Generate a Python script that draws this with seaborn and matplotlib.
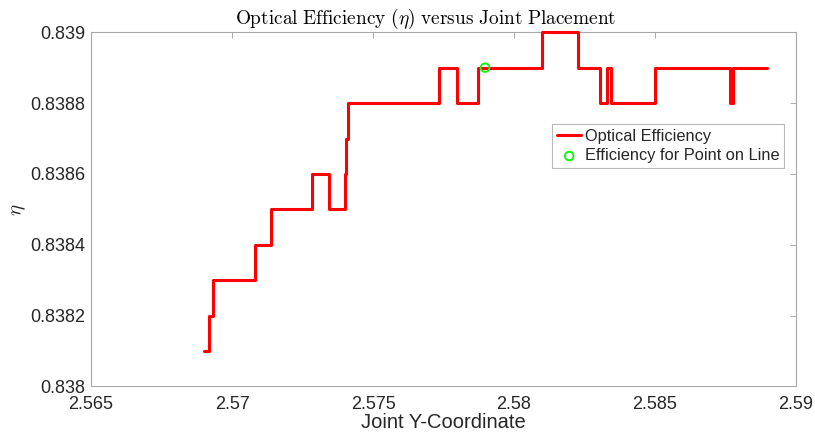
import matplotlib
matplotlib.use("Agg")
import matplotlib.pyplot as plt
import seaborn as sns
import pandas as pd

# Step breakpoints (x where level begins) and efficiency levels
joint_y = [2.56901, 2.56918, 2.56934, 2.57082, 2.57137, 2.57284, 2.57343,
           2.57401, 2.57405, 2.57410, 2.57734, 2.57799, 2.57873, 2.58100,
           2.58226, 2.58306, 2.58331, 2.58343, 2.58501, 2.58766, 2.58778,
           2.58896]
eta = [0.8381, 0.8382, 0.8383, 0.8384, 0.8385, 0.8386, 0.8385,
       0.8386, 0.8387, 0.8388, 0.8389, 0.8388, 0.8389, 0.8390,
       0.8389, 0.8388, 0.8389, 0.8388, 0.8389, 0.8388, 0.8389,
       0.8389]
point_x = [2.57897]
point_eta = [0.8389]
x_ticks = [2.565, 2.57, 2.575, 2.58, 2.585, 2.59]
x_tick_labels = ["2.565", "2.57", "2.575", "2.58", "2.585", "2.59"]
y_ticks = [0.838, 0.8382, 0.8384, 0.8386, 0.8388, 0.839]
y_tick_labels = ["0.838", "0.8382", "0.8384", "0.8386", "0.8388", "0.839"]

sns.set_style("white")
plt.rcParams["font.family"] = ["Liberation Sans", "DejaVu Sans"]
plt.rcParams["mathtext.fontset"] = "cm"

df = pd.DataFrame({"x": joint_y, "eta": eta})
pt = pd.DataFrame({"x": point_x, "eta": point_eta})

fig = plt.figure(figsize=(8.15, 4.45), dpi=100)
ax = fig.add_axes([0.1117, 0.1315, 0.865, 0.796])

sns.lineplot(data=df, x="x", y="eta", ax=ax, color="#ff0000", linewidth=2.2,
             drawstyle="steps-post", estimator=None, sort=False,
             label="Optical Efficiency", zorder=3, clip_on=False)
sns.scatterplot(data=pt, x="x", y="eta", ax=ax, marker="o", s=38,
                facecolors="none", edgecolor="#00ff00", linewidth=1.3,
                label="Efficiency for Point on Line", zorder=5)

ax.set_xlim(2.565, 2.59)
ax.set_ylim(0.838, 0.839)
ax.set_xticks(x_ticks)
ax.set_xticklabels(x_tick_labels)
ax.set_yticks(y_ticks)
ax.set_yticklabels(y_tick_labels)
ax.tick_params(direction="in", length=4, width=0.6, color="#a0a0a0",
               labelsize=13, labelcolor="#262626", top=True, right=True)
ax.tick_params(axis="x", pad=7)
ax.tick_params(axis="y", pad=4)
for s in ax.spines.values():
    s.set_visible(True)
    s.set_color("#a8a8a8")
    s.set_linewidth(0.8)
    s.set_zorder(2)

ax.set_xlabel("Joint Y-Coordinate", fontsize=14.5, color="#262626", labelpad=0)
ax.set_ylabel(r"$\eta$", fontsize=15, color="#262626", labelpad=2)
ax.set_title(r"$\mathrm{Optical\ Efficiency\ (}\eta\mathrm{)\ versus\ Joint\ Placement}$",
             fontsize=13.9, color="#000000", pad=6, x=0.4745)

leg = ax.legend(loc="upper right", bbox_to_anchor=(0.9623, 0.7207),
                bbox_transform=fig.transFigure, fontsize=11.8, frameon=True,
                fancybox=False, handlelength=1.5, handletextpad=0.2,
                borderpad=0.3, labelspacing=0.25, borderaxespad=0)
leg.get_frame().set_edgecolor("#a8a8a8")
leg.get_frame().set_linewidth(0.8)

fig.savefig("out.png", dpi=100)
